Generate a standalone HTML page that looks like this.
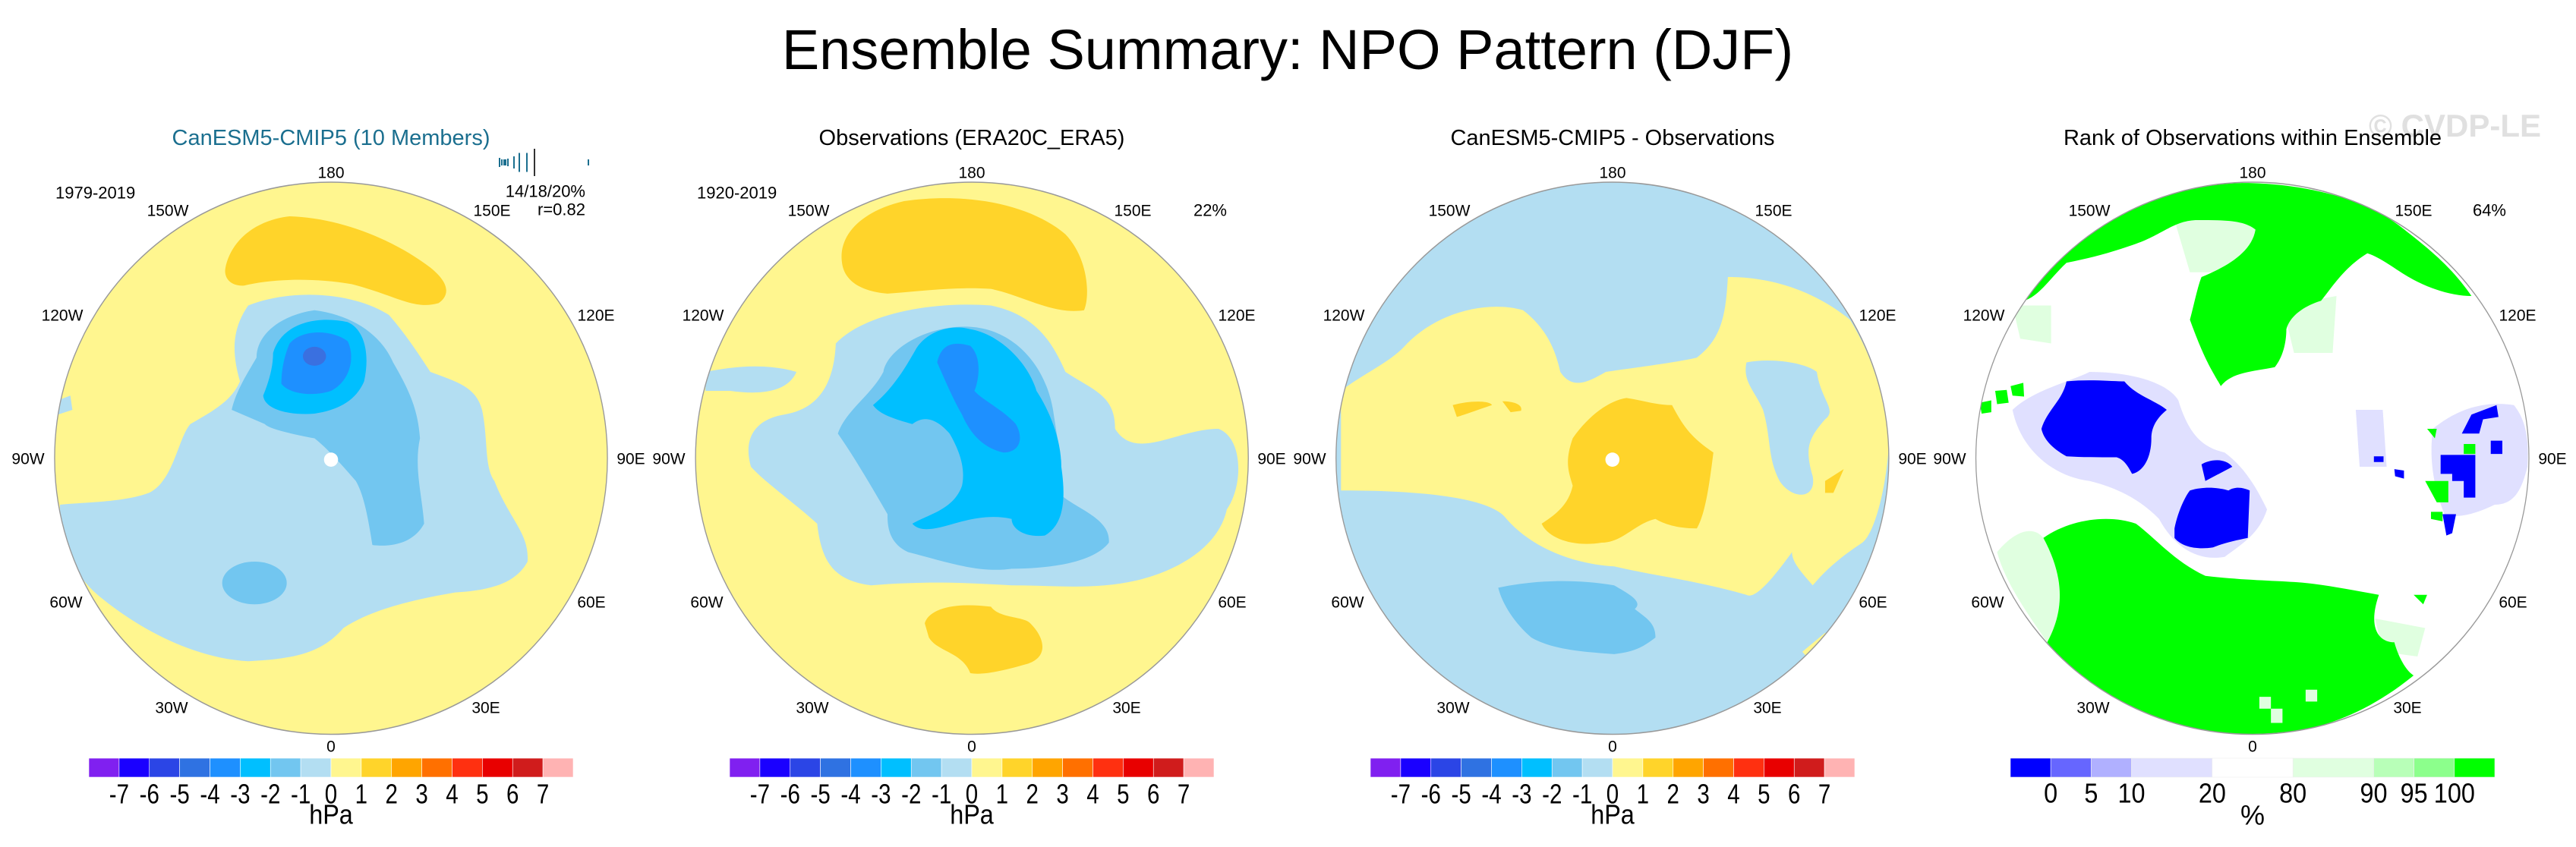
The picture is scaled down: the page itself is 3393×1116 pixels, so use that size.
<!DOCTYPE html>
<html><head><meta charset="utf-8"><style>
html,body{margin:0;padding:0;background:#fff;}
svg{display:block;font-family:"Liberation Sans",sans-serif;}
</style></head><body>
<svg id="fig" width="3393" height="1116" viewBox="0 0 3393 1116">
<text x="1696" y="91" font-size="74" text-anchor="middle">Ensemble Summary: NPO Pattern (DJF)</text>
<text x="3347" y="180" font-size="42" font-weight="bold" fill="#e0e0e0" text-anchor="end">© CVDP-LE</text>

<defs>
<clipPath id="c1" clipPathUnits="userSpaceOnUse"><ellipse cx="800" cy="742" rx="668" ry="582"/></clipPath>
<clipPath id="c2" clipPathUnits="userSpaceOnUse"><ellipse cx="804" cy="742" rx="668" ry="582"/></clipPath>
<clipPath id="c3" clipPathUnits="userSpaceOnUse"><ellipse cx="796" cy="742" rx="668" ry="582"/></clipPath>
<clipPath id="c4" clipPathUnits="userSpaceOnUse"><ellipse cx="722" cy="742" rx="717" ry="582"/></clipPath>
</defs>

<!-- Panel 1 -->
<g transform="translate(0,140) scale(0.545,0.625)">
<g clip-path="url(#c1)">
<ellipse cx="800" cy="742" rx="668" ry="582" fill="#fff68f"/>
<path fill="#ffd42a" d="M545,340 C560,280 620,240 700,232 C820,235 950,280 1040,340 C1090,375 1085,400 1060,415 C1000,430 960,400 850,375 C750,360 650,365 590,378 C555,380 540,360 545,340Z"/>
<path fill="#b3def2" d="M600,420 C700,385 850,390 940,440 C980,480 1010,520 1040,560 C1100,580 1150,590 1165,640 C1180,700 1170,760 1195,790 C1230,870 1280,900 1275,960 C1250,1000 1200,1020 1100,1025 C1000,1040 900,1060 830,1100 C780,1150 720,1165 600,1170 C480,1165 350,1110 250,1040 C190,1000 160,950 145,880 L145,840 C200,835 300,835 360,815 C420,790 430,700 460,670 C520,640 560,620 580,580 C560,520 560,470 600,420Z"/>
<path fill="#b3def2" d="M140,620 L170,610 L175,640 L140,650Z"/>
<path fill="#72c6f0" d="M560,640 C570,600 600,560 620,530 C620,480 680,440 760,430 C850,440 920,480 950,540 C990,600 1010,640 1015,700 C1000,760 1020,820 1025,880 C1000,920 950,930 900,925 C890,870 880,820 860,790 C830,760 790,720 760,700 C700,690 650,680 640,670Z"/>
<ellipse cx="615" cy="1005" rx="78" ry="45" fill="#72c6f0"/>
<path fill="#00bfff" d="M660,520 C680,460 760,440 840,455 C880,470 895,520 880,580 C860,620 820,640 760,648 C700,652 640,640 636,610 C650,580 660,550 660,520Z"/>
<path fill="#1e90ff" d="M700,500 C730,470 800,470 840,495 C860,530 845,580 800,600 C760,612 700,608 680,585 C680,550 690,520 700,500Z"/>
<ellipse cx="760" cy="527" rx="28" ry="20" fill="#3a70e0"/>
<ellipse cx="800" cy="745" rx="17" ry="15" fill="#fff"/>
</g>
<ellipse cx="800" cy="742" rx="668" ry="582" fill="none" stroke="#999" stroke-width="2.5"/>
</g>

<!-- Panel 2 -->
<g transform="translate(842,140) scale(0.545,0.625)">
<g clip-path="url(#c2)">
<ellipse cx="804" cy="742" rx="668" ry="582" fill="#fff68f"/>
<path fill="#ffd42a" d="M490,330 C480,270 540,220 640,200 C800,180 950,210 1030,270 C1085,320 1090,400 1075,430 C1000,440 930,400 850,385 C760,380 680,390 600,395 C530,390 495,365 490,330Z"/>
<path fill="#ffd42a" d="M690,1090 C700,1060 760,1045 850,1055 C870,1080 930,1075 945,1090 C980,1120 990,1160 940,1175 C880,1190 830,1200 800,1195 C780,1150 720,1150 700,1120Z"/>
<path fill="#b3def2" d="M475,500 C540,440 700,410 850,420 C960,440 1000,500 1030,560 C1100,600 1150,610 1150,680 C1200,750 1300,680 1400,680 C1460,700 1460,800 1420,850 C1400,930 1300,980 1200,1000 C1100,1020 1000,1010 900,1010 C800,1005 700,1000 560,1010 C470,1000 440,960 430,880 C380,840 300,790 270,760 C250,700 280,660 350,650 C420,640 470,600 475,500Z"/>
<path fill="#b3def2" d="M160,560 C220,550 300,540 380,560 C360,600 300,610 220,600 L160,600Z"/>
<path fill="#72c6f0" d="M480,690 C500,640 560,610 590,560 C600,510 700,460 800,465 C900,470 980,540 1000,640 C1010,700 1025,760 1020,820 C1060,850 1140,870 1135,920 C1100,960 1000,975 900,975 C820,985 740,960 650,940 C600,920 600,880 600,860 C560,800 520,740 480,690Z"/>
<path fill="#00bfff" d="M565,630 C620,590 650,540 670,510 C700,470 760,460 800,470 C870,480 940,540 960,600 C990,640 1020,700 1020,760 C1030,820 1030,880 980,905 C930,910 900,890 900,870 C850,860 800,870 760,880 C720,890 680,900 660,880 C700,860 760,850 780,800 C790,760 770,720 750,690 C720,660 690,650 660,670 C620,660 580,650 565,630Z"/>
<path fill="#1e90ff" d="M720,540 C730,500 760,495 800,505 C830,530 820,580 810,600 C830,620 880,640 910,670 C930,700 920,730 880,730 C830,720 800,690 780,650 C760,620 740,580 720,540Z"/>
</g>
<ellipse cx="804" cy="742" rx="668" ry="582" fill="none" stroke="#999" stroke-width="2.5"/>
</g>

<!-- Panel 3 -->
<g transform="translate(1690,140) scale(0.545,0.625)">
<g clip-path="url(#c3)">
<ellipse cx="796" cy="742" rx="668" ry="582" fill="#b3def2"/>
<path fill="#fff68f" d="M140,600 C200,560 260,540 300,500 C380,430 500,410 580,430 C640,470 660,520 670,560 C700,600 740,580 780,560 C860,550 950,540 1000,530 C1060,490 1070,440 1075,360 C1200,360 1300,400 1370,450 C1420,520 1450,600 1465,700 C1460,800 1430,900 1400,920 C1330,960 1300,990 1280,1010 C1250,980 1230,960 1230,940 C1180,1000 1140,1040 1120,1030 C1000,1000 900,990 800,970 C700,965 600,930 540,870 C500,820 300,810 140,810Z"/>
<path fill="#b3def2" d="M1120,540 C1180,530 1260,540 1290,560 C1300,620 1340,640 1310,660 C1270,700 1260,720 1280,780 C1290,830 1230,830 1200,790 C1170,740 1180,700 1160,640 C1140,600 1110,580 1120,540Z"/>
<path fill="#ffd42a" d="M700,700 C740,650 790,620 830,615 C870,620 900,630 940,630 C970,680 990,700 1040,730 C1030,800 1020,860 1000,890 C950,890 920,880 900,870 C850,880 820,920 770,920 C700,930 640,910 625,880 C660,860 690,840 700,800 C690,770 680,750 700,700Z"/>
<path fill="#ffd42a" d="M410,630 C450,620 500,620 505,630 C470,640 440,650 420,655Z M530,622 C560,622 580,630 575,642 L550,645Z M1310,790 L1355,765 L1330,815 L1310,815Z"/>
<path fill="#72c6f0" d="M520,1015 C600,1000 700,995 800,1010 C840,1030 870,1045 850,1060 C880,1080 900,1090 900,1120 C870,1140 850,1150 800,1155 C720,1150 650,1145 600,1120 C560,1090 530,1050 520,1015Z"/>
<path fill="#fff68f" d="M1255,1150 L1310,1110 L1330,1120 L1270,1165Z"/>
<ellipse cx="796" cy="745" rx="17" ry="15" fill="#fff"/>
</g>
<ellipse cx="796" cy="742" rx="668" ry="582" fill="none" stroke="#999" stroke-width="2.5"/>
</g>

<!-- Panel 4 -->
<g transform="translate(2600,140) scale(0.508,0.625)">
<g clip-path="url(#c4)">
<ellipse cx="722" cy="742" rx="717" ry="582" fill="#fff"/>
<path fill="#e0ffe0" d="M60,940 C100,900 150,880 180,910 C240,1000 230,1070 190,1130 C130,1060 80,1000 60,940Z M100,420 L200,420 L200,500 L120,490Z M520,240 L740,240 L740,330 L640,350 L560,350Z M800,420 L940,400 L930,520 L830,520Z M1040,1080 L1170,1100 L1150,1160 L1060,1150Z M470,1270 L600,1260 L600,1320 L470,1310Z"/>
<path fill="#00ff00" d="M130,410 C200,330 300,260 420,210 C550,170 650,160 720,162 C850,165 1000,190 1100,250 C1180,300 1240,340 1290,400 C1250,400 1200,390 1150,370 C1100,350 1060,320 1020,310 C960,340 930,380 900,410 C860,420 820,440 810,470 C810,500 800,530 780,550 C720,560 670,560 640,590 C620,560 600,540 560,450 C570,420 580,380 590,360 C650,340 720,310 730,260 C700,240 650,240 580,240 C520,240 490,270 420,290 C350,310 300,320 240,330 C200,360 170,400 130,410Z"/>
<path fill="#00ff00" d="M180,910 C250,870 350,860 420,880 C470,910 520,960 600,990 C700,1000 800,1000 860,1005 C920,1010 980,1020 1050,1030 C1020,1100 1050,1130 1090,1130 C1100,1160 1120,1190 1140,1200 C1050,1260 950,1300 850,1315 C760,1325 700,1325 600,1320 C500,1300 420,1280 360,1250 C280,1200 230,1170 190,1130 C230,1070 240,1000 180,910Z"/>
<path fill="#e0e0ff" d="M100,640 C150,600 250,580 300,560 C400,560 500,580 530,620 C560,700 600,720 650,730 C700,760 730,800 760,850 C740,900 700,920 650,950 C580,960 520,930 480,870 C420,820 350,800 300,790 C200,780 120,720 100,640Z M1190,680 C1250,640 1320,620 1400,630 C1430,660 1440,700 1435,760 C1420,810 1400,840 1350,840 C1300,860 1250,870 1220,860 C1190,800 1180,740 1190,680Z M990,640 L1060,640 L1070,760 L1000,760Z"/>
<path fill="#0000ff" d="M175,680 C190,640 230,620 240,580 C300,575 360,580 390,580 C420,610 470,620 500,640 C470,660 460,680 460,700 C460,740 440,770 410,775 C400,760 390,745 370,740 C320,740 280,740 240,738 C200,720 180,700 175,680Z"/>
<path fill="#0000ff" d="M520,890 C530,850 550,820 560,810 C600,800 640,805 660,810 C680,800 700,805 715,810 L710,910 C680,915 650,920 620,930 C580,935 540,930 520,910Z M590,755 C610,745 650,740 670,760 L600,790Z M1210,735 L1300,735 L1300,825 L1270,825 L1270,790 L1240,790 L1240,775 L1210,775Z M1265,690 L1290,650 L1355,630 L1360,655 L1320,660 L1310,690Z M1340,705 L1370,705 L1370,733 L1340,733Z M1215,860 L1250,860 L1240,900 L1225,905Z M1037,738 L1062,738 L1062,750 L1037,750Z M1090,765 L1115,768 L1115,785 L1092,780Z"/>
<path fill="#00ff00" d="M1170,790 L1230,790 L1230,835 L1200,835Z M1270,712 L1300,712 L1300,733 L1270,733Z M1175,680 L1200,680 L1195,700Z M15,625 L45,620 L45,645 L20,648Z M55,600 L85,598 L90,625 L60,628Z M95,590 L128,583 L130,612 L100,610Z M1140,1030 L1175,1030 L1165,1050Z M1185,855 L1215,855 L1215,875 L1185,870Z"/>
<path fill="#e0ffe0" d="M740,1245 L770,1245 L770,1300 L800,1300 L800,1270 L740,1270Z M860,1230 L890,1230 L890,1255 L860,1255Z"/>
</g>
<ellipse cx="722" cy="742" rx="717" ry="582" fill="none" stroke="#999" stroke-width="2.5"/>
</g>

<g id="labels"></g>
<g id="cbars"></g>
</svg>
<script>
const ns="http://www.w3.org/2000/svg";
const labelsG=document.getElementById('labels');
const cbG=document.getElementById('cbars');

const panelCenters=[436,1280,2124,2967];
const panelTitles=["CanESM5-CMIP5 (10 Members)","Observations (ERA20C_ERA5)","CanESM5-CMIP5 - Observations","Rank of Observations within Ensemble"];
const titleColors=["#1b6f8f","#000","#000","#000"];
const lonNames=["180","150W","150E","120W","120E","90W","90E","60W","60E","30W","30E","0"];
const lonDx=[0,-215,212,-354,349,-399,395,-349,343,-210,204,0];
const lonY=[228,278,278,416,416,605,605,794,794,933,933,984];

const hpaColors=['#8020f0','#1a00ff','#2b45e6','#2f72e2','#1e90ff','#00bfff','#72c6f0','#b3def2','#fff68f','#ffd42a','#ffa500','#ff7000','#ff3010','#e80000','#d01c1c','#ffb3b3'];
const hpaTicks=['-7','-6','-5','-4','-3','-2','-1','0','1','2','3','4','5','6','7'];
const rankColors=['#0000ff','#6666ff','#b0b0ff','#e0e0ff','#ffffff','#e0ffe0','#b8ffb8','#8cff8c','#00ff00'];
const rankWidths=[1,1,1,2,2,2,1,1,1];
const rankTicks=['0','5','10','20','80','90','95','100'];

function txt(parent,x,y,s,size,opts){
  const t=document.createElementNS(ns,'text');
  const sx=(opts&&opts.sx)||1;
  if(sx!==1){
    t.setAttribute('transform','translate('+x+','+y+') scale('+sx+',1)');
    t.setAttribute('x',0);t.setAttribute('y',0);
  } else {t.setAttribute('x',x);t.setAttribute('y',y);}
  t.setAttribute('font-size',size);
  t.setAttribute('text-anchor',(opts&&opts.anchor)||'middle');
  t.setAttribute('dominant-baseline','central');
  if(opts&&opts.fill)t.setAttribute('fill',opts.fill);
  t.textContent=s;parent.appendChild(t);return t;
}

panelCenters.forEach((cx,p)=>{
  const tt=txt(labelsG,cx,182,panelTitles[p],29,{fill:titleColors[p]});
  
  
  lonNames.forEach((n,i)=>{
    const l=txt(labelsG,cx+lonDx[i],lonY[i],n,21);
    
    
  });
});
const extra=[[73,254,'1979-2019','start'],[771,252,'14/18/20%','end'],[771,276,'r=0.82','end'],[918,254,'1920-2019','start'],[1616,277,'22%','end'],[3301,277,'64%','end']];
extra.forEach(e=>{
  const t=txt(labelsG,e[0],e[1],e[2],22,{anchor:e[3]});
  
  
});
const tickXs=[657,660,663,665,668,676,683,693,703,774];
const tickHs=[12,8,8,8,10,16,25,25,36,8];
tickXs.forEach((x,i)=>{
  const r=document.createElementNS(ns,'rect');
  r.setAttribute('x',x);r.setAttribute('y',220-tickHs[i]/2-6);
  r.setAttribute('width',2);r.setAttribute('height',tickHs[i]);
  r.setAttribute('fill',i===8?'#333':'#1b6f8f');
  
  
  labelsG.appendChild(r);
});

function hpaBar(cx){
  const w=638, x0=cx-319, bw=w/hpaColors.length;
  hpaColors.forEach((c,i)=>{
    const r=document.createElementNS(ns,'rect');
    r.setAttribute('x',x0+i*bw);r.setAttribute('y',999);
    r.setAttribute('width',bw);r.setAttribute('height',25);
    r.setAttribute('fill',c);r.setAttribute('stroke','#fff');r.setAttribute('stroke-width','0.6');
    
    
    cbG.appendChild(r);
  });
  hpaTicks.forEach((s,i)=>{
    const t=txt(cbG,x0+(i+1)*bw,1046,s,36,{sx:0.82});
    
    
  });
  const u=txt(cbG,cx,1074,'hPa',36,{sx:0.9});
  
  
}
panelCenters.slice(0,3).forEach(hpaBar);

(function(){
  const x0=2648, unit=638/rankWidths.reduce((a,b)=>a+b,0);
  let x=x0; const bounds=[];
  rankColors.forEach((c,i)=>{
    const r=document.createElementNS(ns,'rect');
    r.setAttribute('x',x);r.setAttribute('y',999);
    r.setAttribute('width',rankWidths[i]*unit);r.setAttribute('height',25);
    r.setAttribute('fill',c);r.setAttribute('stroke','#eee');r.setAttribute('stroke-width','0.6');
    
    
    cbG.appendChild(r);
    x+=rankWidths[i]*unit; bounds.push(x);
  });
  rankTicks.forEach((s,i)=>{
    const t=txt(cbG,bounds[i],1046,s,36,{sx:0.9});
    
    
  });
  const u=txt(cbG,2967,1074,'%',36);
  
  
})();
</script>
</body></html>
